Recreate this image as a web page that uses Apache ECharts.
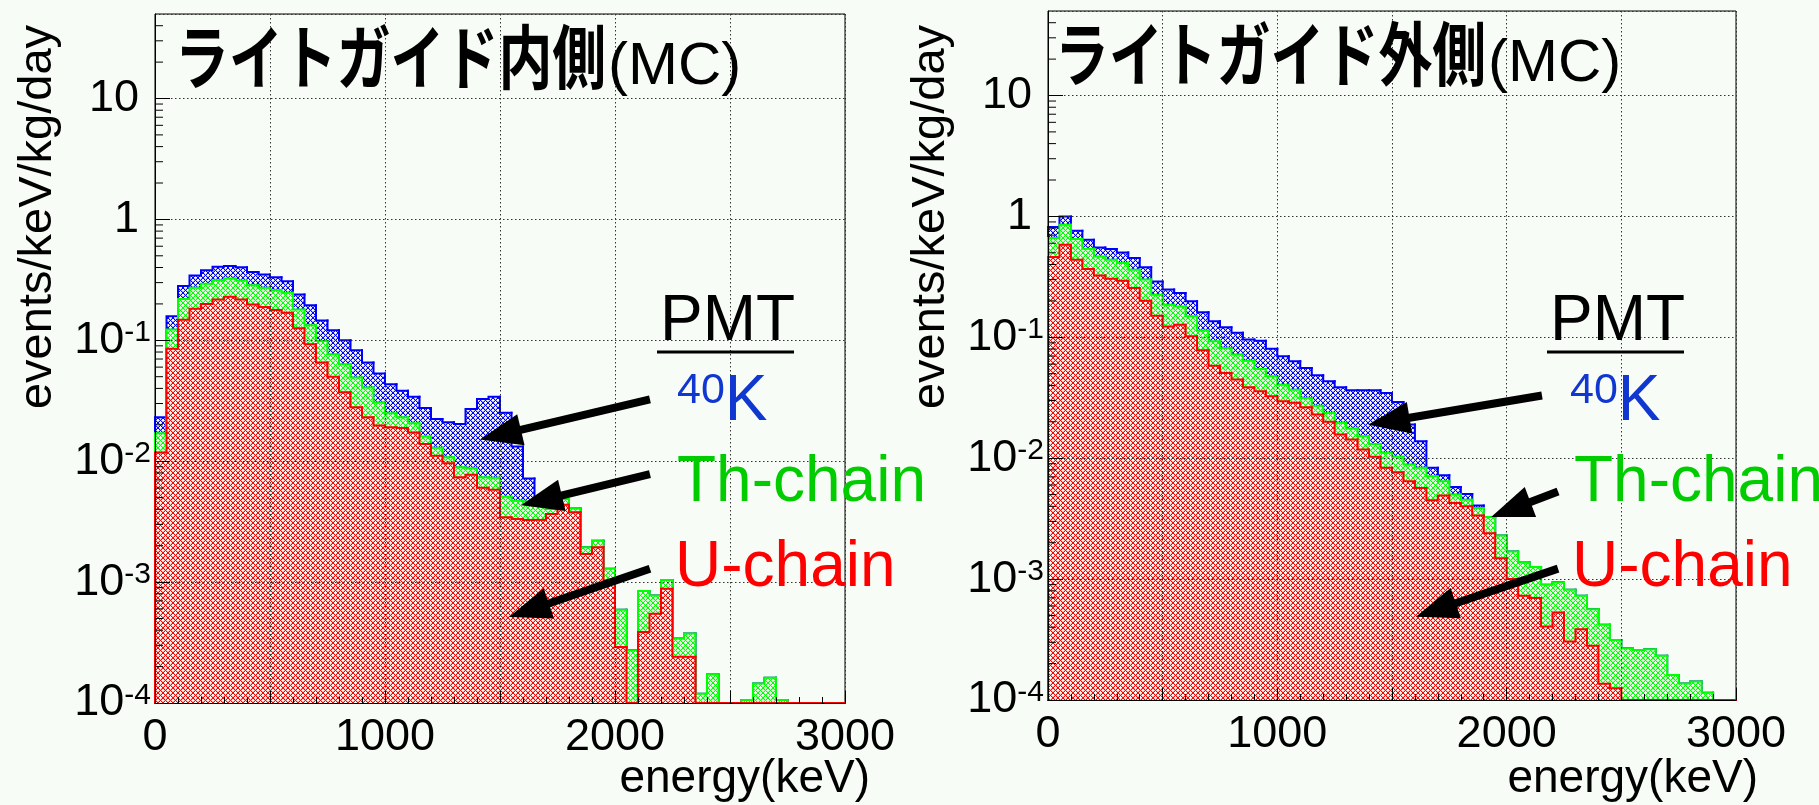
<!DOCTYPE html>
<html>
<head>
<meta charset="utf-8">
<title>PMT background (MC)</title>
<script src="https://cdn.jsdelivr.net/npm/echarts@6.0.0/dist/echarts.min.js"></script>
<style>
html, body { margin: 0; padding: 0; background: #f8fcf6; }
#bgChart { width: 1819px; height: 805px; }
</style>
</head>
<body>
<div id="bgChart"></div>
<script>
var myChart;
var BG = '#f8fcf6';
var FONT = '"Liberation Sans", Arial, sans-serif';
var JP_FONT = '"Noto Sans CJK JP", sans-serif';

// histogram binning (keV)
var BIN_WIDTH = 50;
var Y_MIN = 1e-4;
var Y_MAX = 50;

// labelled ticks
var xLabels = [0, 1000, 2000, 3000];
var yDecades = [-4, -3, -2, -1, 0, 1];
var logMinorSteps = [2, 3, 4, 5, 6, 7, 8, 9];

// ライトガイド内側: stacked levels (U, U+Th, U+Th+40K)
var innerU = [0.0118, 0.0853, 0.148, 0.182, 0.200, 0.218, 0.229, 0.218, 0.198, 0.189,
	0.178, 0.169, 0.126, 0.0927, 0.0655, 0.0499, 0.0371, 0.0279, 0.0231, 0.0197,
	0.0191, 0.0188, 0.0173, 0.0139, 0.0111, 0.00963, 0.00738, 0.00771, 0.00603, 0.00581,
	0.00344, 0.00333, 0.00327, 0.00327, 0.00366, 0.00437, 0.00378, 0.00171, 0.00194, 0.00103,
	0.000291, 0, 0.000387, 0.000548, 0.000881, 0.000241, 0.000241, 0, 0, 0,
	0, 0, 0, 0, 0, 0, 0, 0, 0, 0];
var innerUTh = [0.0170, 0.123, 0.220, 0.272, 0.293, 0.314, 0.324, 0.313, 0.286, 0.272,
	0.260, 0.247, 0.180, 0.133, 0.0988, 0.0767, 0.0634, 0.0492, 0.0407, 0.0306,
	0.0249, 0.0231, 0.0206, 0.0160, 0.0129, 0.0108, 0.00893, 0.00875, 0.00738, 0.00729,
	0.00508, 0.00471, 0.00465, 0.00456, 0.00402, 0.00486, 0.00407, 0.00194, 0.00220, 0.00129,
	0.000592, 0.000273, 0.000843, 0.000776, 0.00104, 0.000341, 0.000375, 0.000119, 0.000172, 0,
	0, 0.000106, 0.000145, 0.000162, 0.000106, 0, 0, 0, 0, 0];
var innerAll = [0.0231, 0.158, 0.281, 0.344, 0.380, 0.405, 0.412, 0.402, 0.368, 0.350,
	0.333, 0.308, 0.239, 0.195, 0.146, 0.121, 0.100, 0.0828, 0.0655, 0.0531,
	0.0434, 0.0382, 0.0341, 0.0275, 0.0223, 0.0210, 0.0203, 0.0270, 0.0327, 0.0341,
	0.0252, 0.0132, 0.00719, 0.00456, 0.00402, 0.00486, 0.00407, 0.00194, 0.00220, 0.00129,
	0.000592, 0.000273, 0.000843, 0.000776, 0.00104, 0.000341, 0.000375, 0.000119, 0.000172, 0,
	0, 0.000106, 0.000145, 0.000162, 0.000106, 0, 0, 0, 0, 0];

// ライトガイド外側
var outerU = [0.461, 0.583, 0.438, 0.367, 0.325, 0.305, 0.294, 0.256, 0.201, 0.151,
	0.123, 0.127, 0.102, 0.0781, 0.0583, 0.0507, 0.0447, 0.0386, 0.0358, 0.0325,
	0.0296, 0.0287, 0.0264, 0.0230, 0.0200, 0.0157, 0.0143, 0.0118, 0.0103, 0.00832,
	0.00766, 0.00645, 0.00568, 0.00449, 0.00491, 0.00427, 0.00400, 0.00335, 0.00240, 0.00149,
	0.00100, 0.000728, 0.000697, 0.000406, 0.000530, 0.000304, 0.000385, 0.000281, 0.000136, 0.000125,
	0, 0, 0, 0, 0, 0, 0, 0, 0, 0];
var outerUTh = [0.662, 0.853, 0.650, 0.541, 0.467, 0.438, 0.411, 0.362, 0.300, 0.225,
	0.186, 0.180, 0.149, 0.114, 0.0927, 0.0816, 0.0719, 0.0641, 0.0547, 0.0476,
	0.0406, 0.0369, 0.0315, 0.0272, 0.0237, 0.0196, 0.0176, 0.0152, 0.0131, 0.0111,
	0.0103, 0.00887, 0.00832, 0.00710, 0.00645, 0.00500, 0.00454, 0.00388, 0.00327, 0.00229,
	0.00169, 0.00137, 0.00126, 0.000897, 0.000944, 0.000817, 0.000728, 0.000564, 0.000419, 0.000314,
	0.000268, 0.000259, 0.000263, 0.000232, 0.000161, 0.000137, 0.000142, 0.000115, 0, 0];
var outerAll = [0.816, 1.00, 0.761, 0.641, 0.554, 0.537, 0.504, 0.453, 0.379, 0.290,
	0.248, 0.232, 0.199, 0.161, 0.136, 0.121, 0.109, 0.0957, 0.0938, 0.0806,
	0.0697, 0.0634, 0.0558, 0.0486, 0.0433, 0.0386, 0.0365, 0.0365, 0.0364, 0.0347,
	0.0291, 0.0190, 0.0138, 0.00832, 0.00723, 0.00578, 0.00506, 0.00406, 0.00327, 0.00229,
	0.00169, 0.00137, 0.00126, 0.000897, 0.000944, 0.000817, 0.000728, 0.000564, 0.000419, 0.000314,
	0.000268, 0.000259, 0.000263, 0.000232, 0.000161, 0.000137, 0.000142, 0.000115, 0, 0];

// arrows: [tail, head] in (keV, value)
var innerArrows = [[[2152, 0.0325], [1502, 0.0166]],
	[[2152, 0.00783], [1680, 0.00475]],
	[[2152, 0.00129], [1626, 0.000586]]];
var outerArrows = [[[2154, 0.0330], [1486, 0.0202]],
	[[2224, 0.00531], [2018, 0.00377]],
	[[2224, 0.00122], [1691, 0.000556]]];

var HIST_COLOR = { k: '#0000ff', th: '#00ff00', u: '#ff0000' };

window.onload = function() {
	myChart = echarts.init(document.getElementById('bgChart'));
	myChart.setOption(chartOption());
};

// crosshatch fill like ROOT style 3144 (pixel diagonals, period 5)
function makeHatch(color) {
	var n = 5;
	var c = document.createElement('canvas');
	c.width = n;
	c.height = n;
	var g = c.getContext('2d');
	g.fillStyle = BG;
	g.fillRect(0, 0, n, n);
	g.fillStyle = color;
	for (var y = 0; y < n; y++) {
		for (var x = 0; x < n; x++) {
			var a = ((x - y) % n + n) % n;
			var b = (x + y) % n;
			if (a === 0 || b === 0) {
				g.globalAlpha = 1;
				g.fillRect(x, y, 1, 1);
			} else if (a === 1 || b === 4) {
				// soft edge, the scanned original is a bit blurred
				g.globalAlpha = 0.3;
				g.fillRect(x, y, 1, 1);
			}
		}
	}
	g.globalAlpha = 1;
	return { image: c, repeat: 'repeat' };
}

function histData(levels) {
	var d = [];
	for (var i = 0; i < levels.length; i++) {
		var prev = i > 0 ? levels[i - 1] : 0;
		d.push([i * BIN_WIDTH, (i + 1) * BIN_WIDTH, levels[i], prev]);
	}
	return d;
}

function histSeries(name, levels, color, idx) {
	var hatch = makeHatch(color);
	return {
		name: name,
		type: 'custom',
		xAxisIndex: idx,
		yAxisIndex: idx,
		silent: true,
		z: 2,
		encode: { x: [0, 1], y: 2 },
		data: histData(levels),
		renderItem: function(params, api) {
			var v = api.value(2);
			var y = v > 0 ? v : Y_MIN;
			var yp = api.value(3) > 0 ? api.value(3) : Y_MIN;
			var p0 = api.coord([api.value(0), y]);
			var p1 = api.coord([api.value(1), y]);
			var pb = api.coord([api.value(0), Y_MIN]);
			var pp = api.coord([api.value(0), yp]);
			var children = [];
			if (v > 0) {
				children.push({
					type: 'rect',
					shape: { x: p0[0], y: p0[1], width: p1[0] - p0[0] + 0.6, height: pb[1] - p0[1] },
					style: { fill: hatch }
				});
			}
			children.push({
				type: 'polyline',
				shape: { points: [pp, p0, p1] },
				style: { stroke: color, lineWidth: 2, fill: null, lineCap: 'square' }
			});
			return { type: 'group', children: children };
		}
	};
}

// log minor ticks (2..9 per decade), inside the frame
function minorTickSeries(idx) {
	var d = [];
	for (var e = 0; e < yDecades.length; e++) {
		for (var m = 0; m < logMinorSteps.length; m++) {
			var v = logMinorSteps[m] * Math.pow(10, yDecades[e]);
			if (v < Y_MAX) d.push([0, v]);
		}
	}
	return {
		type: 'custom',
		xAxisIndex: idx,
		yAxisIndex: idx,
		silent: true,
		z: 10,
		encode: { x: 0, y: 1 },
		data: d,
		renderItem: function(params, api) {
			var p = api.coord([api.value(0), api.value(1)]);
			return {
				type: 'line',
				shape: { x1: p[0], y1: p[1], x2: p[0] + 8, y2: p[1] },
				style: { stroke: '#000', lineWidth: 1 }
			};
		}
	};
}

function arrowSeries(arrows, idx) {
	var lines = [];
	for (var i = 0; i < arrows.length; i++) {
		lines.push([{ coord: arrows[i][0] }, { coord: arrows[i][1] }]);
	}
	return {
		type: 'line',
		xAxisIndex: idx,
		yAxisIndex: idx,
		data: [],
		z: 8,
		silent: true,
		markLine: {
			silent: true,
			animation: false,
			symbol: ['none', 'triangle'],
			symbolSize: [32, 42],
			label: { show: false },
			emphasis: { disabled: true },
			lineStyle: { color: '#000', width: 8, type: 'solid' },
			data: lines
		}
	};
}

function yLabel(value) {
	var e = Math.round(Math.log(value) / Math.LN10);
	if (yDecades.indexOf(e) < 0 || Math.abs(value / Math.pow(10, e) - 1) > 1e-6) {
		return '';
	}
	if (e === 0) return '{n|1}';
	if (e === 1) return '{n|10}';
	return '{b|10}{s|' + e + '}';
}

function xAxisSetting(idx) {
	return {
		type: 'value',
		gridIndex: idx,
		min: 0,
		max: 3000,
		interval: 500,
		z: 5,
		axisLine: { show: true, onZero: false, lineStyle: { color: '#000', width: 1 } },
		axisTick: { show: true, inside: true, length: 12, lineStyle: { color: '#000' } },
		minorTick: { show: true, splitNumber: 5, length: 6, lineStyle: { color: '#000' } },
		splitLine: { show: true, lineStyle: { color: '#333', type: [1.5, 2.5], width: 1 } },
		axisLabel: {
			show: true,
			showMinLabel: true,
			showMaxLabel: true,
			margin: 12,
			color: '#000',
			fontSize: 45,
			fontFamily: FONT,
			formatter: function(v) {
				return xLabels.indexOf(v) >= 0 ? String(v) : '';
			}
		}
	};
}

function yAxisSetting(idx) {
	return {
		type: 'log',
		logBase: 10,
		gridIndex: idx,
		min: Y_MIN,
		max: Y_MAX,
		interval: 1,
		z: 5,
		axisLine: { show: true, lineStyle: { color: '#000', width: 1 } },
		axisTick: { show: true, inside: true, length: 15, lineStyle: { color: '#000' } },
		minorTick: { show: false },
		splitLine: { show: true, lineStyle: { color: '#333', type: [1.5, 2.5], width: 1 } },
		axisLabel: {
			show: true,
			showMaxLabel: false,
			margin: 4,
			color: '#000',
			formatter: yLabel,
			rich: {
				n: { fontSize: 45, fontFamily: FONT, color: '#000', padding: [0, 12, 0, 0] },
				b: { fontSize: 45, fontFamily: FONT, color: '#000', verticalAlign: 'bottom' },
				s: { fontSize: 30, fontFamily: FONT, color: '#000', verticalAlign: 'top', padding: [0, 0, 10, 0] }
			}
		}
	};
}

function textItem(x, y, text, size, color, opt) {
	var item = {
		type: 'text',
		x: x,
		y: y,
		z: 20,
		silent: true,
		style: {
			text: text,
			fill: color,
			fontSize: size,
			fontFamily: FONT,
			align: 'left',
			verticalAlign: 'middle'
		}
	};
	if (opt) {
		for (var key in opt) {
			if (key === 'scaleX') item.scaleX = opt[key];
			else item.style[key] = opt[key];
		}
	}
	return item;
}

function lineItem(x1, y1, x2, y2, w) {
	return {
		type: 'line',
		z: 20,
		silent: true,
		shape: { x1: x1, y1: y1, x2: x2, y2: y2 },
		style: { stroke: '#000', lineWidth: w }
	};
}

function panelGraphics(title, pos, axisX, plotRight) {
	var kRich = {
		sup: { fontSize: 43, fontFamily: FONT, fill: '#1038d0', verticalAlign: 'top' },
		big: { fontSize: 64, fontFamily: FONT, fill: '#1038d0', verticalAlign: 'bottom' }
	};
	return [
		// title: gothic katakana is narrower in the original, so squeeze it
		textItem(pos.title, pos.titleY, title, 70, '#000',
			{ fontFamily: JP_FONT, fontWeight: 'bold', scaleX: 0.77 }),
		textItem(pos.mc, pos.titleY + 10, '(MC)', 60, '#000'),
		textItem(pos.pmt, 322, 'PMT', 64, '#000'),
		lineItem(pos.pmt - 3, 352, pos.pmt + 134, 352, 3),
		textItem(pos.k, 402, '{sup|40}{big|K}', 64, '#1038d0', { rich: kRich }),
		textItem(pos.th, 483, 'Th-chain', 64, '#00cc00'),
		textItem(pos.u, 568, 'U-chain', 64, '#ff0000'),
		{
			type: 'text',
			x: axisX,
			y: 217,
			rotation: Math.PI / 2,
			z: 20,
			silent: true,
			style: {
				text: 'events/keV/kg/day',
				fill: '#000',
				fontSize: 47,
				fontFamily: FONT,
				align: 'center',
				verticalAlign: 'middle'
			}
		},
		textItem(plotRight, 779, 'energy(keV)', 46, '#000', { align: 'right' })
	];
}

function chartOption() {
	var graphics = panelGraphics('ライトガイド内側',
		{ title: 175, mc: 608, titleY: 57, pmt: 660, k: 677, th: 677, u: 675 }, 38, 870)
		.concat(panelGraphics('ライトガイド外側',
		{ title: 1055, mc: 1488, titleY: 54, pmt: 1550, k: 1570, th: 1574, u: 1572 }, 931, 1758));

	return {
		backgroundColor: BG,
		animation: false,
		grid: [
			{ left: 155, top: 14, width: 690, height: 689, show: true, borderColor: '#000', borderWidth: 1, backgroundColor: 'transparent' },
			{ left: 1048, top: 11, width: 688, height: 689, show: true, borderColor: '#000', borderWidth: 1, backgroundColor: 'transparent' }
		],
		xAxis: [xAxisSetting(0), xAxisSetting(1)],
		yAxis: [yAxisSetting(0), yAxisSetting(1)],
		series: [
			histSeries('40K', innerAll, HIST_COLOR.k, 0),
			histSeries('Th-chain', innerUTh, HIST_COLOR.th, 0),
			histSeries('U-chain', innerU, HIST_COLOR.u, 0),
			histSeries('40K', outerAll, HIST_COLOR.k, 1),
			histSeries('Th-chain', outerUTh, HIST_COLOR.th, 1),
			histSeries('U-chain', outerU, HIST_COLOR.u, 1),
			minorTickSeries(0),
			minorTickSeries(1),
			arrowSeries(innerArrows, 0),
			arrowSeries(outerArrows, 1)
		],
		graphic: graphics
	};
}
</script>
</body>
</html>
